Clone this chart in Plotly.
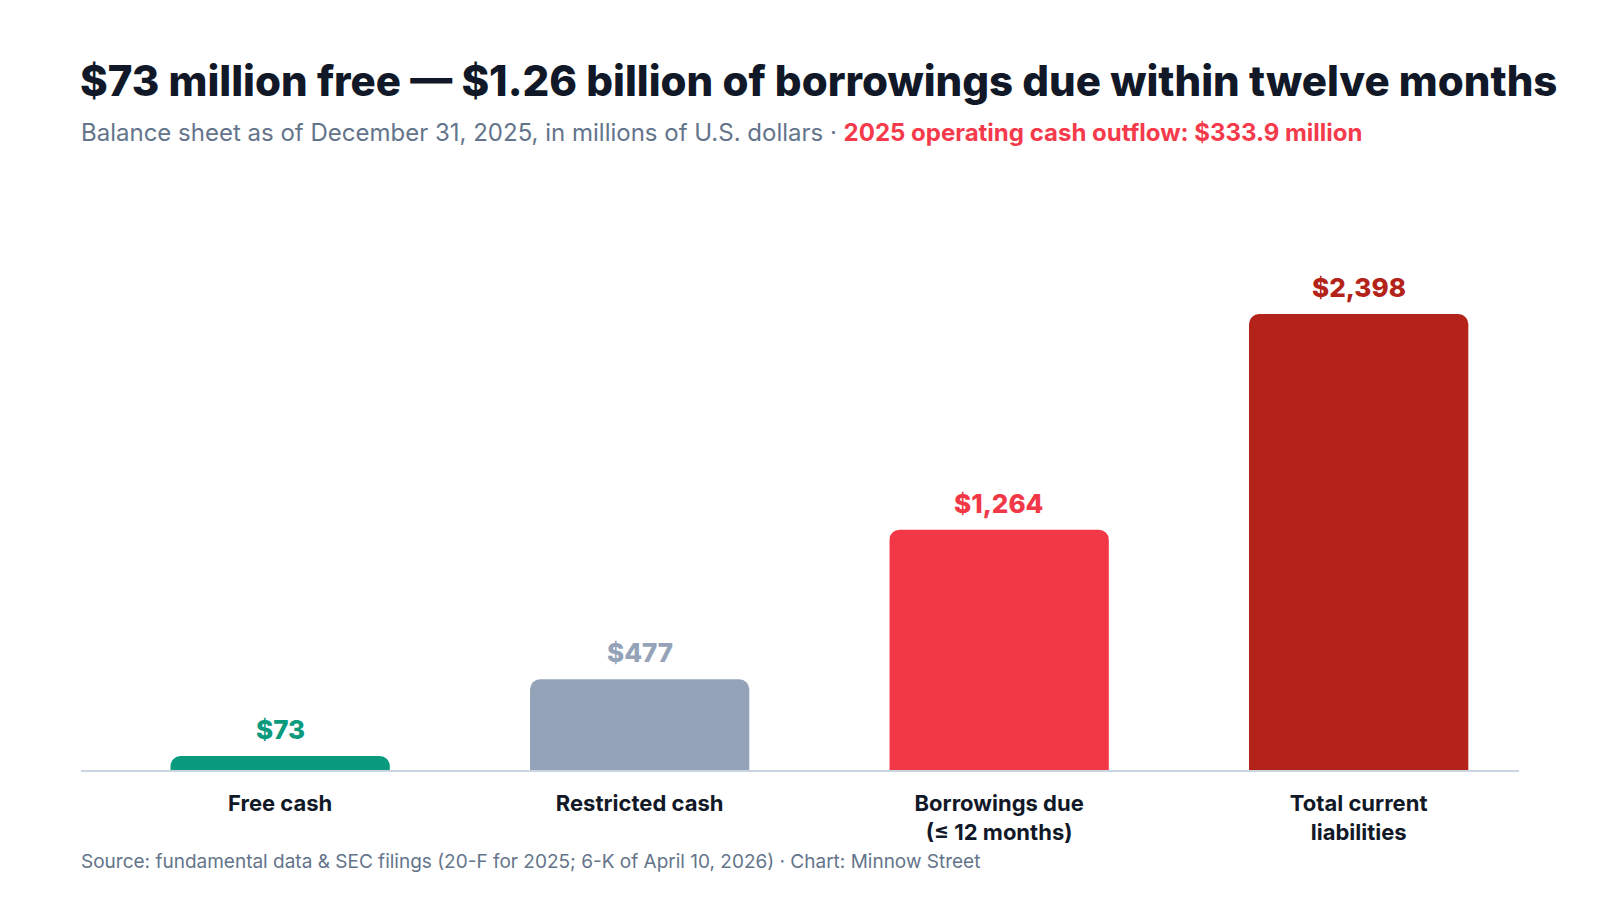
import plotly.graph_objects as go

# Balance sheet items, millions of USD (Dec 31, 2025)
categories = ["Free cash", "Restricted cash", "Borrowings due<br>(≤ 12 months)", "Total current<br>liabilities"]
values = [73, 477, 1264, 2398]
labels = ["$73", "$477", "$1,264", "$2,398"]
colors = ["#0a9a7e", "#94a3b8", "#f23847", "#b32319"]

FONT = "Inter"
top_px, base_px = 180, 762
plot_h = base_px - top_px


def py(y_px):
    # pixel row -> paper y
    return (base_px - y_px) / plot_h


fig = go.Figure(go.Bar(
    x=categories,
    y=values,
    marker=dict(color=colors, line=dict(width=0), cornerradius=10),
    hoverinfo="skip",
))

# value labels above each bar
notes = []
for cat, val, lab, col in zip(categories, values, labels, colors):
    notes.append(dict(x=cat, y=val, text=lab, xref="x", yref="y",
                      xanchor="center", yanchor="bottom", yshift=9, showarrow=False,
                      font=dict(family=FONT, size=26, color=col, weight=800)))

notes += [
    dict(text="$73 million free — $1.26 billion of borrowings due within twelve months",
         xref="paper", yref="paper", x=0, y=py(72), xanchor="left", yanchor="middle", xshift=-3,
         showarrow=False, font=dict(family=FONT, size=42, color="#111827", weight=800)),
    dict(text="Balance sheet as of December 31, 2025, in millions of U.S. dollars · "
              "<span style='color:#f43a4b'><b>2025 operating cash outflow: $333.9 million</b></span>",
         xref="paper", yref="paper", x=0, y=py(125), xanchor="left", yanchor="middle", xshift=-2,
         showarrow=False, font=dict(family=FONT, size=24, color="#64748b")),
    dict(text="Source: fundamental data & SEC filings (20-F for 2025; 6-K of April 10, 2026) · Chart: Minnow Street",
         xref="paper", yref="paper", x=0, y=py(854), xanchor="left", yanchor="middle", xshift=-2,
         showarrow=False, font=dict(family=FONT, size=19, color="#64748b")),
]

fig.update_layout(
    width=1600, height=900,
    margin=dict(l=73, r=89, t=top_px, b=900 - base_px),
    paper_bgcolor="white", plot_bgcolor="white",
    bargap=0.39,
    showlegend=False,
    font=dict(family=FONT),
    xaxis=dict(
        range=[-0.554, 3.446],
        showline=True, linecolor="#cbd5e1", linewidth=1.5,
        showgrid=False, ticks="", ticklabelstandoff=13,
        tickfont=dict(family=FONT, size=22, color="#111827", weight="bold"),
        fixedrange=True,
    ),
    yaxis=dict(
        range=[0, 2398 * plot_h / (base_px - 306)],
        visible=False, showgrid=False, zeroline=False, fixedrange=True,
    ),
    annotations=notes,
)

fig.write_html("out.html")
